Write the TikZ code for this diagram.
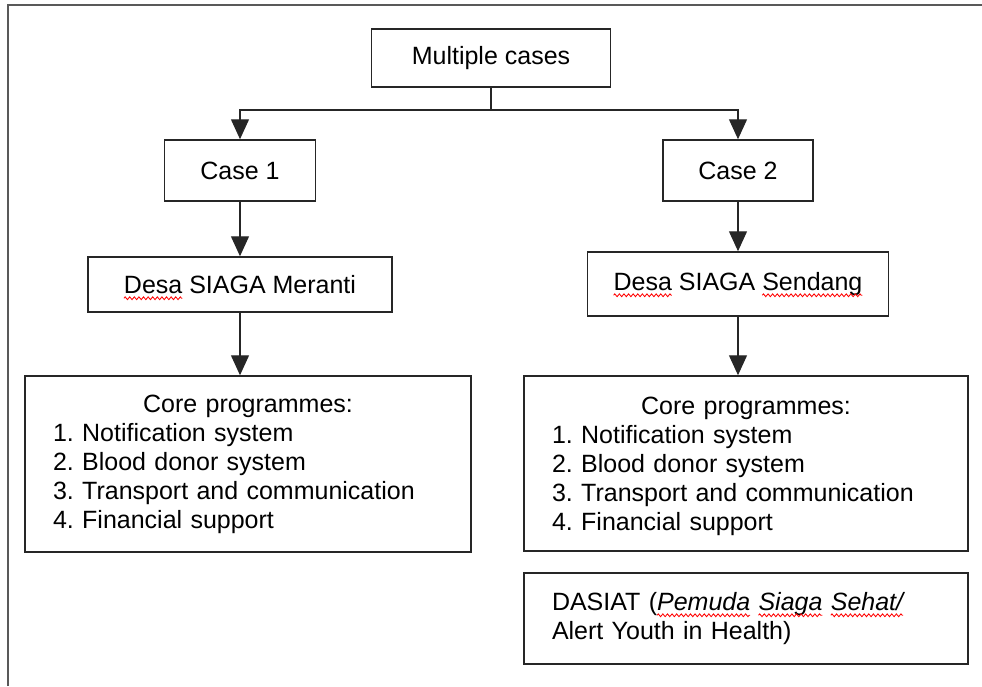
\documentclass[tikz,border=0pt]{standalone}
\usepackage{fontspec}
\setmainfont{Liberation Sans}
\usetikzlibrary{arrows.meta,decorations.pathmorphing}
\frenchspacing

% red wavy spell-check mark under a word
\tikzset{spell/.style={draw=red, line width=0.85pt, decorate,
    decoration={zigzag, amplitude=1.4pt, segment length=4.6pt}}}
\newsavebox\spellbox
\newlength\spellwd
\newcommand\spellmark[1]{%
  \sbox\spellbox{#1}\setlength\spellwd{\wd\spellbox}%
  \rlap{\usebox\spellbox}%
  \tikz[baseline=0pt]{\path[use as bounding box] (0pt,0pt) rectangle (\spellwd,0pt);
    \draw[spell] (0pt,-4.8pt) -- (\spellwd,-4.8pt);}}

\begin{document}
\begin{tikzpicture}[x=1pt,y=1pt,
  box/.style={draw=black!85, line width=1.5pt, inner sep=0pt,
    font=\fontsize{25}{29}\selectfont},
  link/.style={draw=black!85, line width=1.3pt},
  tip/.style={link, -{Triangle[width=18pt,length=20pt]}},
  frame/.style={draw=black!65, line width=2pt}]
\useasboundingbox (0,0) rectangle (982,-686);

% page frame (top and left edges)
\draw[frame] (8,-686) -- (8,-5) -- (982,-5);

% boxes
\node[box, minimum width=239, minimum height=58] (multi) at (491,-58) {Multiple cases};
\node[box, minimum width=151, minimum height=61] (case1) at (240,-170.5) {Case 1};
\node[box, minimum width=150, minimum height=61] (case2) at (738,-170.5) {Case 2};
\node[box, minimum width=304, minimum height=55] (desa1) at (240,-284.5)
  {\spellmark{Desa} SIAGA Meranti};
\node[box, minimum width=301, minimum height=64] (desa2) at (738,-284)
  {\spellmark{Desa} SIAGA \spellmark{Sendang}};
\node[box, minimum width=446, minimum height=176, text width=390, align=left] (core1) at (248,-464)
  {\makebox[390pt][c]{Core programmes:}\\
   1. Notification system\\
   2. Blood donor system\\
   3. Transport and communication\\
   4. Financial support};
\node[box, minimum width=444, minimum height=175, text width=388, align=left] (core2) at (746,-463.5)
  {\rule{0pt}{24pt}\makebox[388pt][c]{Core programmes:}\\
   1. Notification system\\
   2. Blood donor system\\
   3. Transport and communication\\
   4. Financial support};
\node[box, minimum width=444, minimum height=91, text width=388, align=left] (dasiat) at (746,-618.5)
  {DASIAT (\textit{\spellmark{Pemuda} \spellmark{Siaga} \spellmark{Sehat/}}\\
   Alert Youth in Health)};

% connectors
\coordinate (fork) at (491,-110);
\draw[link] (multi.south) -- (fork);
\draw[tip] (fork) -| (case1.north);
\draw[tip] (fork) -| (case2.north);
\draw[tip] (case1.south) -- (desa1.north);
\draw[tip] (case2.south) -- (desa2.north);
\draw[tip] (desa1.south) -- (desa1.south |- core1.north);
\draw[tip] (desa2.south) -- (desa2.south |- core2.north);
\end{tikzpicture}
\end{document}
